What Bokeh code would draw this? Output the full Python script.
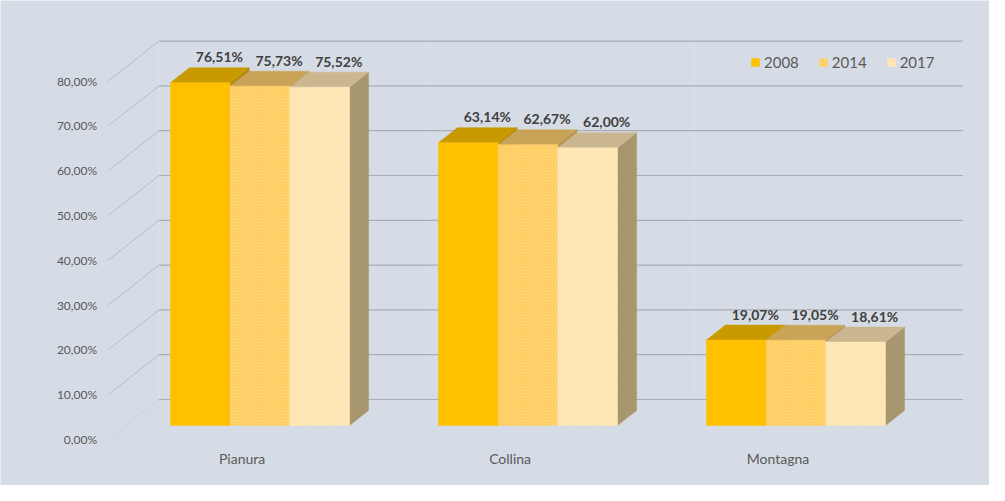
from bokeh.plotting import figure
from bokeh.models import ColumnDataSource, Range1d, Legend, LegendItem
from bokeh.core.properties import value
from bokeh.embed import file_html
from bokeh.resources import INLINE

# ---------------- data ----------------
categories = ["Pianura", "Collina", "Montagna"]
years = ["2008", "2014", "2017"]
v2008 = [76.51, 63.14, 19.07]
v2014 = [75.73, 62.67, 19.05]
v2017 = [75.52, 62.00, 18.61]
tick_values = [0, 10, 20, 30, 40, 50, 60, 70, 80]
tick_labels = ["0,00%", "10,00%", "20,00%", "30,00%", "40,00%",
               "50,00%", "60,00%", "70,00%", "80,00%"]

series = [v2008, v2014, v2017]

# ---------------- styling / 3D projection ----------------
BG = "#D6DCE5"
FONT = "Lato"
front_cols = ["#FFC000", "#FFD36E", "#FFE9BA"]
top_cols = ["#C89A00", "#C9A458", "#CBB78F"]
side_cols = ["#B08A10", "#B39050", "#A8966E"]
hatch_cols = [None, "#F5B840", "#F3D28C"]

DX = 51 / 268.0   # x shift per unit depth (category units)
DY = 40 / 4.48    # y shift per unit depth (% units)
D0, D1 = 0.35, 0.725
BAR_W = 0.2227
GROUP_HALF = 1.5 * BAR_W
VMAX = 80


def proj(c, v, d):
    return c + DX * d, v + DY * d


def poly(pts):
    xs, ys = [], []
    for c, v, d in pts:
        x, y = proj(c, v, d)
        xs.append(x)
        ys.append(y)
    return xs, ys


p = figure(width=989, height=485, output_backend="svg", toolbar_location=None,
           x_range=Range1d(-0.9015, 2.789), y_range=Range1d(-10.27, 97.99),
           x_axis_location=None, y_axis_location=None, min_border=0)
p.grid.visible = False
p.outline_line_color = None
p.background_fill_color = BG
p.border_fill_color = BG

n = len(categories)
cmin, cmax = -0.5, n - 0.5

# faint back-wall verticals and floor diagonals
vx, vy, fx, fy = [], [], [], []
for k in range(n + 1):
    c = cmin + k
    xs, ys = poly([(c, 0, 1), (c, VMAX, 1)])
    vx.append(xs); vy.append(ys)
    xs, ys = poly([(c, 0, 0), (c, 0, 1)])
    fx.append(xs); fy.append(ys)
p.multi_line(vx, vy, line_color="#DDE1E8", line_width=1)
p.multi_line(fx, fy, line_color="#DDE1E8", line_width=1)

# back wall horizontal gridlines
gx, gy, dxs, dys = [], [], [], []
for t in tick_values:
    xs, ys = poly([(cmin, t, 1), (cmax, t, 1)])
    gx.append(xs); gy.append(ys)
    xs, ys = poly([(cmin, t, 0), (cmin, t, 1)])
    dxs.append(xs); dys.append(ys)
p.multi_line(gx, gy, line_color="#A9AEB6", line_width=1.2)
p.multi_line(dxs[1:], dys[1:], line_color="#B9BDC4", line_width=1)
p.multi_line(dxs[:1], dys[:1], line_color="#CCD0D6", line_width=1)

# tick labels (front plane)
tx, ty = [], []
for t in tick_values:
    x, y = proj(cmin, t, 0)
    tx.append(x); ty.append(y)
p.text(tx, ty, text=tick_labels, text_align="right", text_baseline="middle",
       x_offset=-11, text_font=value(FONT), text_font_size="12px", text_color="#595959")

# category labels
cx, cy = [], []
for i in range(n):
    x, y = proj(i, 0, 0)
    cx.append(x); cy.append(y)
p.text(cx, cy, text=categories, text_align="center", text_baseline="middle",
       y_offset=19, text_font=value(FONT), text_font_size="14px", text_color="#595959")

# bars
legend_items = []
lab_x, lab_y, lab_t = [], [], []
for k, vals in enumerate(series):
    fxs, fys, txs, tys, sxs, sys_ = [], [], [], [], [], []
    for i, v in enumerate(vals):
        c0 = i - GROUP_HALF + k * BAR_W
        c1 = c0 + BAR_W
        a, b = poly([(c0, 0, D0), (c1, 0, D0), (c1, v, D0), (c0, v, D0)])
        fxs.append(a); fys.append(b)
        a, b = poly([(c0, v, D0), (c1, v, D0), (c1, v, D1), (c0, v, D1)])
        txs.append(a); tys.append(b)
        a, b = poly([(c1, 0, D0), (c1, 0, D1), (c1, v, D1), (c1, v, D0)])
        sxs.append(a); sys_.append(b)
        x, y = proj((c0 + c1) / 2, v, D1)
        lab_x.append(x); lab_y.append(y)
        lab_t.append(("%.2f" % v).replace(".", ",") + "%")
    p.patches(sxs, sys_, fill_color=side_cols[k], line_color=side_cols[k], line_width=0.5)
    p.patches(txs, tys, fill_color=top_cols[k], line_color=top_cols[k], line_width=0.5)
    kw = {}
    if hatch_cols[k]:
        kw = dict(hatch_pattern="dot", hatch_color=hatch_cols[k], hatch_scale=3,
                  hatch_alpha=0.6)
    r = p.patches(fxs, fys, fill_color=front_cols[k], line_color=front_cols[k],
                  line_width=0.5, **kw)
    legend_items.append(LegendItem(label=years[k], renderers=[r]))

p.text(lab_x, lab_y, text=lab_t, text_align="center", text_baseline="middle",
       y_offset=-11, text_font=value(FONT), text_font_style="bold",
       text_font_size="14px", text_color="#404040")

legend = Legend(items=legend_items, orientation="horizontal", location=(740, 404),
                glyph_width=10, glyph_height=10, label_standoff=4, spacing=19,
                padding=10, label_text_font=FONT, label_text_font_size="15px",
                label_text_color="#595959", background_fill_alpha=0,
                border_line_alpha=0)
p.add_layout(legend)

open("out.html", "w").write(file_html(p, INLINE))
